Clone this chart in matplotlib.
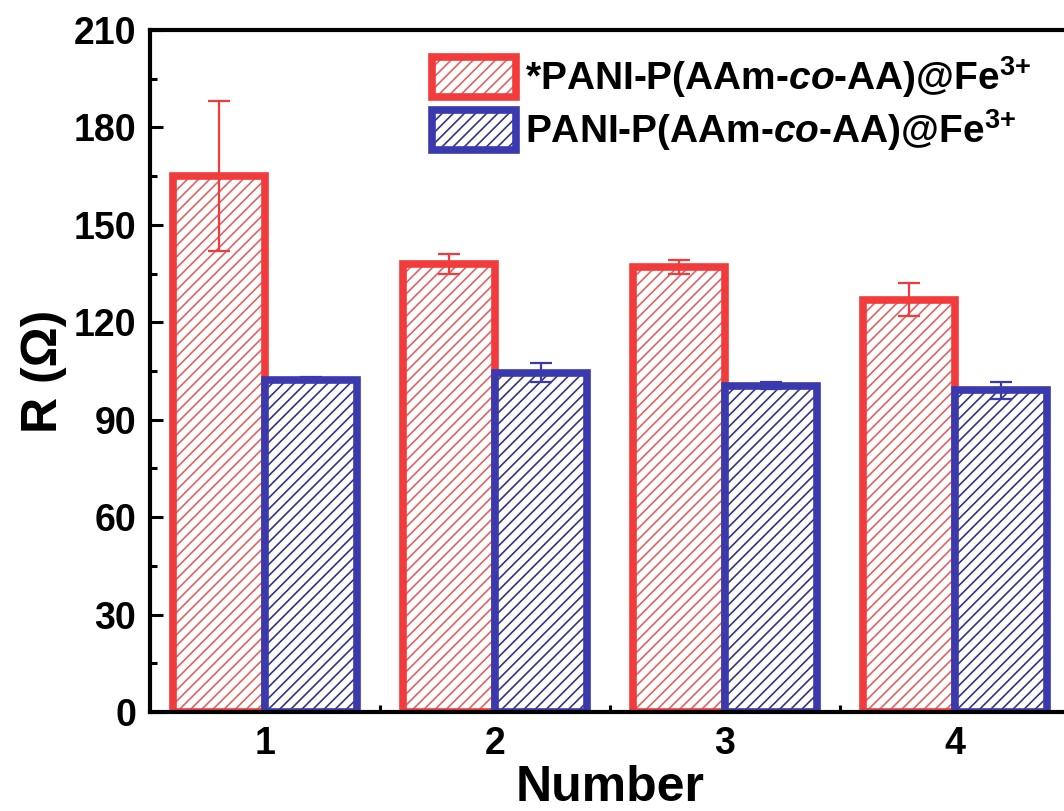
import matplotlib
matplotlib.use("Agg")
import matplotlib.pyplot as plt
import numpy as np
from matplotlib.ticker import MultipleLocator, FixedLocator
from matplotlib.legend_handler import HandlerTuple

# Measured resistance for each sample number
numbers = [1, 2, 3, 4]
r_star = [165, 138, 137, 127]
r_star_err = [23, 3, 2.2, 5]
r_plain = [102.3, 104.5, 100.5, 99]
r_plain_err = [0.7, 3, 1, 2.5]
tick_labels = ["1", "2", "3", "4"]
label_star = r"*PANI-P(AAm-$\mathit{co}$-AA)@Fe$^{3{+}}$"
label_plain = r"PANI-P(AAm-$\mathit{co}$-AA)@Fe$^{3{+}}$"

plt.rcParams["font.family"] = ["Liberation Sans", "DejaVu Sans"]
plt.rcParams["font.weight"] = "bold"
plt.rcParams["mathtext.fontset"] = "custom"
plt.rcParams["mathtext.rm"] = "Liberation Sans:bold"
plt.rcParams["mathtext.it"] = "Liberation Sans:bold:italic"
plt.rcParams["mathtext.bf"] = "Liberation Sans:bold"
plt.rcParams["hatch.linewidth"] = 1.2

RED = "#f23b3b"
RED_HATCH = "#dc6464"
BLUE = "#3a3aae"
BLUE_HATCH = "#35357e"

fig = plt.figure(figsize=(10.64, 8.11), dpi=100)
ax = fig.add_axes([150 / 1064, 1 - 712 / 811, 920 / 1064, 682 / 811])

x = np.array(numbers, dtype=float)
w = 0.4

# hatched fills, then thick outlines on top
h1 = ax.bar(x - w / 2, r_star, w, facecolor="white", edgecolor=RED_HATCH,
            hatch="///", linewidth=0, zorder=2)
o1 = ax.bar(x - w / 2, r_star, w, fill=False, edgecolor=RED,
            linewidth=5.5, zorder=3)
h2 = ax.bar(x + w / 2, r_plain, w, facecolor="white", edgecolor=BLUE_HATCH,
            hatch="///", linewidth=0, zorder=4)
o2 = ax.bar(x + w / 2, r_plain, w, fill=False, edgecolor=BLUE,
            linewidth=5.5, zorder=5)

ax.errorbar(x - w / 2, r_star, yerr=r_star_err, fmt="none", ecolor=RED,
            elinewidth=1.6, capsize=8, capthick=1.6, zorder=6)
ax.errorbar(x + w / 2, r_plain, yerr=r_plain_err, fmt="none", ecolor=BLUE,
            elinewidth=1.6, capsize=8, capthick=1.6, zorder=6)

ax.set_xlim(0.5, 4.5)
ax.set_ylim(0, 210)
ax.set_xticks(numbers)
ax.set_xticklabels(tick_labels)
ax.xaxis.set_minor_locator(FixedLocator([1.5, 2.5, 3.5]))
ax.yaxis.set_major_locator(MultipleLocator(30))
ax.yaxis.set_minor_locator(MultipleLocator(15))

ax.tick_params(which="both", direction="in", width=2.2, labelsize=27,
               top=False, right=False)
ax.tick_params(which="major", length=9, pad=10)
ax.tick_params(which="minor", length=5)
for s in ax.spines.values():
    s.set_linewidth(3)
    s.set_zorder(10)

ax.set_xlabel("Number", fontsize=36, fontweight="bold", labelpad=2)
ax.set_ylabel("R (\u03a9)", fontsize=36, fontweight="bold", labelpad=5)

leg = ax.legend([(h1[0], o1[0]), (h2[0], o2[0])], [label_star, label_plain],
                handler_map={tuple: HandlerTuple(ndivide=1, pad=0)},
                loc="upper left", bbox_to_anchor=(432 / 1064, 1 - 54 / 811),
                bbox_transform=fig.transFigure, frameon=False,
                fontsize=28, handlelength=2.15, handleheight=1.2,
                handletextpad=0.25, labelspacing=0.2, borderpad=0,
                borderaxespad=0)

fig.savefig("out.png", dpi=100)
